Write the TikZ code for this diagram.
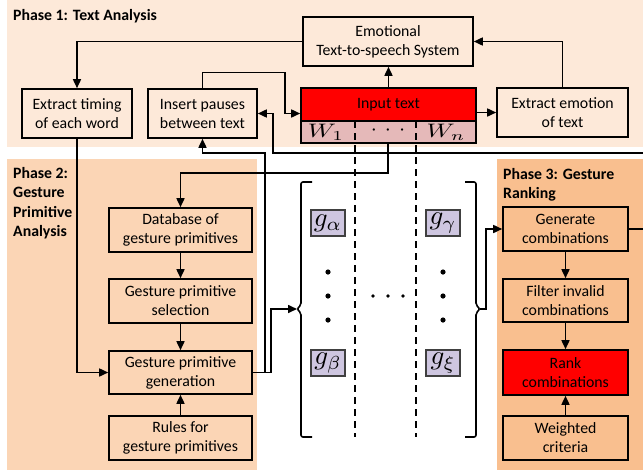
\documentclass[tikz,border=0pt]{standalone}
\usepackage{fontspec}
\setmainfont{Carlito}
\usepackage{graphicx}
\usetikzlibrary{arrows.meta}
\definecolor{pone}{RGB}{253,233,217}
\definecolor{ptwo}{RGB}{251,213,181}
\definecolor{pthree}{RGB}{249,191,143}
\definecolor{wrowc}{RGB}{229,185,185}
\definecolor{gboxc}{RGB}{206,198,224}
\newcommand{\wmath}[1]{\scalebox{2.6}[1.95]{$#1$}}
\newcommand{\gmath}[1]{\scalebox{2.7}{$#1$}}
\begin{document}
\begin{tikzpicture}[x=1pt,y=-1pt,
  box/.style={draw=black,line width=1.6pt,align=center,inner sep=0pt,font=\fontsize{15.8}{19}\selectfont},
  arr/.style={line width=1.6pt,-{Triangle[length=9pt,width=8pt]}},
  ln/.style={line width=1.6pt},
  ptitle/.style={font=\fontsize{15.8}{19.5}\selectfont\bfseries,align=left,inner sep=0pt},
  gnode/.style={draw=black!75,line width=1.3pt,fill=gboxc,minimum width=34pt,minimum height=26pt,inner sep=0pt},
  dline/.style={line width=1.3pt,dash pattern=on 7pt off 5pt},
  wtext/.style={inner sep=0pt}
]
\useasboundingbox (0,0) rectangle (643,472);
% phase backgrounds
\fill[pone] (7,0) rectangle (643,147);
\fill[ptwo] (7,159) rectangle (257,470);
\fill[pthree] (497,159) rectangle (643,470);

% titles
\node[ptitle,anchor=base west] (t1) at (13,20) {Phase 1: Text Analysis};
\node[ptitle,anchor=north west] (t2) at (13,167) {Phase 2:\\Gesture\\Primitive\\Analysis};
\node[ptitle,anchor=north west] (t3) at (503,168) {Phase 3: Gesture\\Ranking};

% phase 1 nodes
\node[box,fill=pone,minimum width=170pt,minimum height=49pt] (tts) at (388,41.5) {Emotional\\Text-to-speech System};
\node[box,fill=pone,minimum width=110pt,minimum height=49pt] (timing) at (77,113.5) {Extract timing\\of each word};
\node[box,fill=pone,minimum width=109pt,minimum height=49pt] (pauses) at (202.5,113.5) {Insert pauses\\between text};
\node[box,fill=red,minimum width=175pt,minimum height=33pt] (input) at (388.5,104.5) {Input text};
\node[box,fill=wrowc,minimum width=175pt,minimum height=22pt] (wrow) at (388.5,132) {};
\node[box,fill=pone,minimum width=131pt,minimum height=49pt] (emotion) at (562.5,112.5) {Extract emotion\\of text};

% phase 2 nodes
\node[box,fill=ptwo,minimum width=143pt,minimum height=44pt] (db) at (180.5,230) {Database of\\gesture primitives};
\node[box,fill=ptwo,minimum width=143pt,minimum height=44pt] (sel) at (180.5,301) {Gesture primitive\\selection};
\node[box,fill=ptwo,minimum width=143pt,minimum height=43pt] (gen) at (180.5,372.5) {Gesture primitive\\generation};
\node[box,fill=ptwo,minimum width=143pt,minimum height=44pt] (rules) at (180.5,438) {Rules for\\gesture primitives};

% phase 3 nodes
\node[box,fill=pthree,minimum width=125pt,minimum height=44pt] (comb) at (565.5,229) {Generate\\combinations};
\node[box,fill=pthree,minimum width=125pt,minimum height=43pt] (filt) at (565.5,300.5) {Filter invalid\\combinations};
\node[box,fill=red,minimum width=125pt,minimum height=45pt] (rank) at (565.5,372.5) {Rank\\combinations};
\node[box,fill=pthree,minimum width=125pt,minimum height=44pt] (wcrit) at (565.5,438) {Weighted\\criteria};

% dashed separators
\draw[dline] (355,121) -- (355,437);
\draw[dline] (416,121) -- (416,437);

% W row texts
\node[wtext] (w1t) at (326,132) {\wmath{W_1}};
\node[wtext] (wdt) at (388,130.5) {\scalebox{2.2}{$\cdot$}\hspace{8pt}\scalebox{2.2}{$\cdot$}\hspace{8pt}\scalebox{2.2}{$\cdot$}};
\node[wtext] (wnt) at (446,132) {\wmath{W_n}};

% gesture primitive matrix
\node[gnode] (ga) at (328,223) {\gmath{g_\alpha}};
\node[gnode] (gc) at (443,223) {\gmath{g_\gamma}};
\node[gnode] (gb) at (328,363) {\gmath{g_\beta}};
\node[gnode] (gx) at (443,363) {\gmath{g_\xi}};
\foreach \yy in {272,296,320} {\fill (328,\yy) circle (2.6pt); \fill (443,\yy) circle (2.6pt);}
\foreach \xx in {373,388,403} \fill (\xx,296) circle (1.8pt);
\draw[ln,rounded corners=2pt] (312,182) -- (301,182) -- (301,305) -- (297,309) -- (301,313) -- (301,437) -- (312,437);
\draw[ln,rounded corners=2pt] (465,182) -- (476,182) -- (476,305) -- (480,309) -- (476,313) -- (476,437) -- (465,437);
\coordinate (lb) at (297,309);
\coordinate (rb) at (480,309);

% connectors
\draw[arr] (tts.west) -| (timing.north);
\draw[arr] (timing.south) |- (gen.west);
\draw[arr] (input.north) -- (input.north |- tts.south);
\draw[arr] (input.east |- emotion.west) -- (emotion.west);
\draw[arr] (emotion.north) |- (tts.east);
\coordinate (p1) at (285,72.5);
\draw[arr] (pauses.north) |- (p1) |- (input.west |- pauses.east);
\coordinate (r1) at (648,153);
\coordinate (r2) at (273,153);
\draw[arr] (comb.east) -| (r1) -- (r2) |- (pauses.east);
\coordinate (g1) at (265,153);
\draw[arr] (gen.east) -| (g1) -| (pauses.south);
\coordinate (g2) at (271,309);
\draw[arr] (gen.east) -| (g2) -- (lb);
\coordinate (w1) at (388,173);
\draw[arr] (wrow.south -| w1) -- (w1) -| (db.north);
\coordinate (rb2) at (486,309);
\draw[arr] (rb) -- (rb2) |- (comb.west);
\draw[arr] (db) -- (sel);
\draw[arr] (sel) -- (gen);
\draw[arr] (rules) -- (gen);
\draw[arr] (comb) -- (filt);
\draw[arr] (filt) -- (rank);
\draw[arr] (wcrit) -- (rank);
\end{tikzpicture}
\end{document}
